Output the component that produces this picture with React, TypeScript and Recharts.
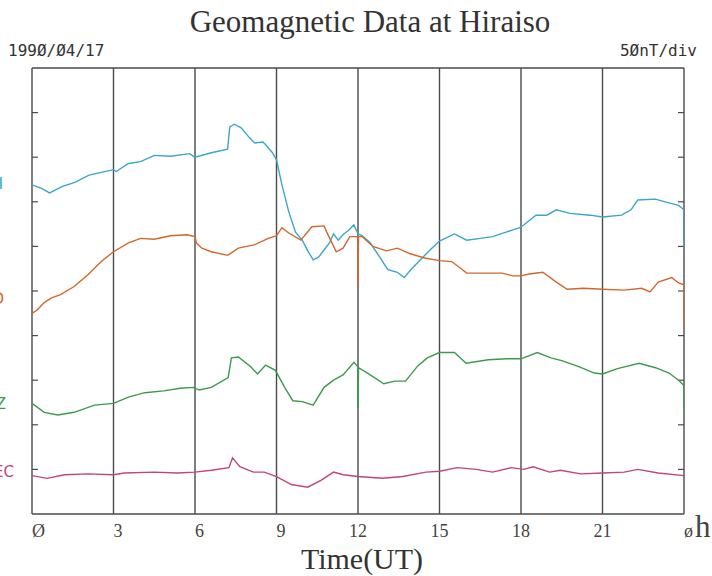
import React from 'react';
import { LineChart, Line, XAxis, YAxis, ReferenceLine } from 'recharts';

// Hours (UT) along the x axis
const HOUR_TICKS = [0, 3, 6, 9, 12, 15, 18, 21, 24];
const HOUR_LABELS = ['Ø', '3', '6', '9', '12', '15', '18', '21', 'ø'];
// 50 nT per division marks
const NT_TICKS = [50, 100, 150, 200, 250, 300, 350, 400, 450];

// Traces: [hour, value in nT above chart bottom]
const H_TRACE: [number, number][] = [
  [0, 369], [0.35, 365], [0.65, 360], [1.1, 367], [1.6, 372], [2.1, 380], [2.55, 383], [3.0, 386], [3.1, 384],
  [3.55, 393], [4.0, 395], [4.5, 402], [5.1, 401], [5.8, 404], [6.0, 400], [6.6, 405], [7.2, 409], [7.28, 434],
  [7.45, 437], [7.7, 433], [8.0, 422], [8.2, 416], [8.5, 417], [8.6, 414], [8.85, 405], [9.0, 397], [9.2, 369],
  [9.45, 339], [9.7, 316], [9.95, 307], [10.15, 295], [10.35, 285], [10.55, 288], [10.75, 296], [10.95, 304],
  [11.1, 314], [11.27, 307], [11.45, 313], [11.65, 318], [11.85, 324], [12.0, 314], [12.15, 312], [12.45, 304],
  [12.8, 288], [13.1, 274], [13.45, 271], [13.7, 265], [13.95, 274], [14.3, 285], [14.65, 296], [15.0, 306],
  [15.55, 314], [16.0, 307], [16.5, 309], [16.95, 311], [17.45, 316], [17.95, 321], [18.1, 324], [18.55, 335],
  [18.95, 335], [19.3, 341], [19.8, 337], [20.55, 335], [21.0, 333], [21.7, 335], [22.05, 341], [22.3, 352],
  [22.95, 353], [23.3, 350], [23.8, 346], [24.0, 341], [24.0, 299],
];
const D_TRACE: [number, number][] = [
  [0, 225], [0.2, 229], [0.45, 237], [0.7, 242], [1.05, 246], [1.55, 255], [2.05, 268], [2.55, 283], [3.0, 294],
  [3.55, 304], [4.0, 309], [4.5, 308], [5.1, 312], [5.7, 313], [6.0, 311], [6.05, 304], [6.25, 298], [6.6, 294],
  [7.2, 290], [7.6, 298], [8.2, 302], [8.7, 309], [9.0, 312], [9.2, 321], [9.45, 315], [9.9, 307], [10.3, 322],
  [10.75, 323], [10.85, 316], [11.2, 294], [11.45, 298], [11.7, 311], [12.0, 311], [12.0, 256], [12.02, 311],
  [12.15, 311], [12.55, 300], [13.05, 295], [13.45, 298], [13.9, 292], [14.45, 287], [15.0, 284], [15.45, 283],
  [15.75, 276], [16.0, 270], [16.7, 270], [17.3, 270], [17.7, 267], [18.0, 267], [18.3, 269], [18.8, 271],
  [19.3, 260], [19.7, 252], [20.3, 253], [21.0, 252], [21.8, 251], [22.45, 253], [22.75, 249], [23.05, 260],
  [23.55, 265], [23.8, 259], [24.0, 257], [24.0, 210],
];
const Z_TRACE: [number, number][] = [
  [0, 124], [0.45, 114], [0.95, 111], [1.55, 114], [2.3, 122], [3.0, 124], [3.55, 131], [4.15, 136], [4.85, 138],
  [5.45, 141], [5.95, 142], [6.15, 139], [6.6, 142], [7.22, 153], [7.34, 175], [7.6, 176], [8.05, 165], [8.3, 157],
  [8.6, 167], [8.96, 161], [9.3, 142], [9.6, 127], [9.95, 126], [10.35, 122], [10.75, 142], [11.1, 150],
  [11.45, 156], [11.85, 170], [12.0, 165], [12.0, 118], [12.02, 164], [12.35, 158], [12.95, 146], [13.35, 149],
  [13.75, 149], [14.2, 166], [14.55, 175], [15.0, 181], [15.55, 181], [15.98, 169], [16.8, 173], [17.5, 174],
  [18.0, 174], [18.6, 181], [19.1, 175], [19.5, 172], [20.15, 165], [20.7, 158], [21.0, 157], [21.55, 163],
  [22.35, 169], [22.95, 164], [23.45, 158], [23.8, 150], [24.0, 144], [24.0, 117],
];
const DEC_TRACE: [number, number][] = [
  [0, 43], [0.55, 40], [1.2, 44], [2.05, 45], [3.0, 44], [3.4, 46], [4.5, 47], [5.35, 46], [6.0, 47], [6.6, 49],
  [7.25, 52], [7.38, 63], [7.65, 53], [8.15, 47], [8.55, 47], [9.0, 42], [9.55, 33], [10.15, 30], [10.65, 38],
  [11.1, 47], [11.45, 44], [12.0, 42], [12.9, 40], [13.65, 42], [14.5, 47], [15.0, 48], [15.65, 52], [16.35, 50],
  [16.95, 47], [17.65, 52], [18.1, 50], [18.45, 53], [19.05, 47], [19.45, 49], [20.2, 45], [21.0, 46], [21.8, 47],
  [22.3, 50], [23.05, 46], [24.0, 43],
];

const SERIES = [
  { name: 'H', trace: H_TRACE, color: '#3aa6c8' },
  { name: 'D', trace: D_TRACE, color: '#d2672c' },
  { name: 'Z', trace: Z_TRACE, color: '#3c9a4c' },
  { name: 'DEC', trace: DEC_TRACE, color: '#c2447e' },
];

const toRows = (trace: [number, number][]) => trace.map(([t, v]) => ({ t, v }));

const GRID = '#4a4a4a';
const SERIF = '"Liberation Serif", "DejaVu Serif", serif';
const MONO = '"DejaVu Sans Mono", monospace';

const HourTick = (props: any) => {
  const { x, payload } = props;
  const idx = HOUR_TICKS.indexOf(payload.value);
  const label = HOUR_LABELS[idx] ?? String(payload.value);
  if (payload.value === 24) {
    return (
      <g>
        <text x={x} y={537} fontFamily={SERIF} fontSize={18} fill="#444" textAnchor="start">{label}</text>
        <text x={x + 11} y={537} fontFamily={SERIF} fontSize={31} fill="#444" textAnchor="start">h</text>
      </g>
    );
  }
  return (
    <text x={x} y={537} fontFamily={SERIF} fontSize={18} fill="#444" textAnchor={label.length === 1 ? 'start' : 'middle'}>
      {label}
    </text>
  );
};

export default function App() {
  return (
    <div style={{ position: 'absolute', left: 0, top: 0, width: 712, height: 576, background: '#fff', overflow: 'hidden' }}>
      <LineChart width={712} height={576} margin={{ top: 68, right: 28, bottom: 32, left: 32 }}>
        <XAxis
          dataKey="t"
          type="number"
          domain={[0, 24]}
          ticks={HOUR_TICKS}
          axisLine={false}
          tickLine={false}
          height={30}
          tick={<HourTick />}
          interval={0}
          allowDataOverflow
        />
        <YAxis type="number" domain={[0, 500]} hide allowDataOverflow />
        {HOUR_TICKS.map((h) => (
          <ReferenceLine key={'v' + h} x={h} stroke={GRID} strokeWidth={1.4} />
        ))}
        <ReferenceLine y={0} stroke={GRID} strokeWidth={1.4} />
        <ReferenceLine y={500} stroke={GRID} strokeWidth={1.4} />
        {NT_TICKS.map((v) => (
          <ReferenceLine key={'l' + v} segment={[{ x: 0, y: v }, { x: 0.22, y: v }]} stroke={GRID} strokeWidth={1.2} />
        ))}
        {NT_TICKS.map((v) => (
          <ReferenceLine key={'r' + v} segment={[{ x: 23.78, y: v }, { x: 24, y: v }]} stroke={GRID} strokeWidth={1.2} />
        ))}
        {SERIES.map((s) => (
          <Line
            key={s.name}
            data={toRows(s.trace)}
            dataKey="v"
            type="linear"
            stroke={s.color}
            strokeWidth={1.4}
            dot={false}
            activeDot={false}
            isAnimationActive={false}
          />
        ))}
      </LineChart>
      <div style={{ position: 'absolute', left: 0, width: 740, top: 4, textAlign: 'center', fontFamily: SERIF, fontSize: 31, color: '#333', lineHeight: '36px' }}>
        Geomagnetic Data at Hiraiso
      </div>
      <div style={{ position: 'absolute', left: 8, top: 42, fontFamily: MONO, fontSize: 16, color: '#333', lineHeight: '18px' }}>
        199Ø/Ø4/17
      </div>
      <div style={{ position: 'absolute', right: 15, top: 42, fontFamily: MONO, fontSize: 16, color: '#333', lineHeight: '18px' }}>
        5ØnT/div
      </div>
      <div style={{ position: 'absolute', left: 0, width: 724, top: 544, textAlign: 'center', fontFamily: SERIF, fontSize: 30, color: '#333', lineHeight: '30px' }}>
        Time(UT)
      </div>
      {/* Series labels, mostly cut off by the left edge */}
      <div style={{ position: 'absolute', right: 709, top: 175, fontFamily: '"DejaVu Sans", sans-serif', fontSize: 15, color: SERIES[0].color }}>H</div>
      <div style={{ position: 'absolute', right: 708, top: 290, fontFamily: '"DejaVu Sans", sans-serif', fontSize: 15, color: SERIES[1].color }}>D</div>
      <div style={{ position: 'absolute', right: 706, top: 395, fontFamily: '"DejaVu Sans", sans-serif', fontSize: 15, color: SERIES[2].color }}>Z</div>
      <div style={{ position: 'absolute', right: 698, top: 463, fontFamily: '"DejaVu Sans", sans-serif', fontSize: 15, color: SERIES[3].color }}>DEC</div>
    </div>
  );
}
